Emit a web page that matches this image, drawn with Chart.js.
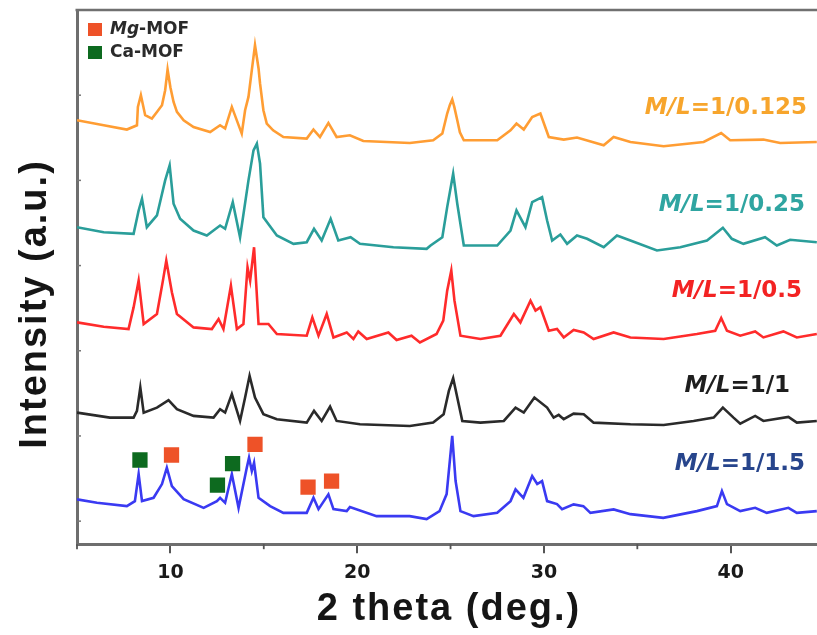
<!DOCTYPE html>
<html><head><meta charset="utf-8">
<script src="https://cdn.jsdelivr.net/npm/chart.js@4/dist/chart.umd.min.js"></script>
<style>html,body{margin:0;padding:0;background:#fff;overflow:hidden}</style>
</head><body>
<canvas id="c" width="817" height="635" style="display:block;width:817px;height:635px"></canvas>
<script>
// ---- data (2 theta in degrees, intensity in arbitrary units incl. stacking offset) ----
const thetaA = [5.00,6.43,7.67,8.21,8.26,8.42,8.65,9.01,9.28,9.55,9.72,9.85,10.00,10.17,10.35,10.71,11.24,12.13,12.66,12.93,13.29,13.82,14.00,14.18,14.36,14.53,14.72,14.80,14.98,15.16,15.50,16.05,17.30,17.66,18.01,18.46,18.90,19.61,20.33,22.82,24.07,24.56,24.82,24.96,25.09,25.20,25.36,25.50,25.71,27.50,28.21,28.53,28.92,29.37,29.81,30.26,31.06,31.77,33.20,33.73,34.63,36.41,38.55,39.49,39.97,41.75,42.65,44.61];
const intA   = [400,395,390.7,395,413.3,425,405,401.7,408.3,415,430,450.7,433,418.3,408.3,400,393.3,388.3,395,391.7,413.3,386.7,410,423.3,450,475,451.7,436.7,410,396.7,390,383.3,381.7,390.7,383.3,397.3,383.3,385,379.3,377.3,380,386.7,406.7,415,420.7,413.3,400,388,380,380,390,396.7,390.7,403.3,406.7,383.3,380.7,382.7,375,383.3,378.3,374,378.3,387.3,380,380.7,377.3,378.3];

const thetaB = [5.00,6.43,8.03,8.30,8.48,8.74,9.28,9.72,9.96,10.17,10.52,11.24,11.95,12.66,12.93,13.34,13.73,14.18,14.45,14.63,14.80,14.98,15.70,16.59,17.30,17.69,18.10,18.58,18.99,19.65,20.15,21.94,23.72,23.93,24.56,24.82,25.14,25.36,25.71,27.50,28.21,28.53,29.01,29.37,29.90,30.17,30.44,30.88,31.24,31.77,32.31,33.20,33.91,34.63,36.05,37.30,38.73,39.58,40.06,40.68,41.84,42.47,43.18,44.61];
const intB   = [293.3,288.3,286.7,310,321.7,293.3,305,340,355,316.7,301.7,290,285,295,291.7,318.3,283.3,340,370,376.7,356.7,303.3,285,276.7,278.3,291.7,280,301.7,280,283.3,276.7,273.3,271.7,275,283.3,313.3,346.7,316.7,275,275,290,310,293.3,318.3,323.3,300,280,286,276.7,285,281.7,273.3,285,280,270,273.3,280,292.7,281.7,276.7,283.3,275,280.7,278.3];

const thetaC = [5.00,6.43,7.76,8.03,8.30,8.57,9.28,9.60,9.78,10.08,10.35,11.24,12.22,12.58,12.84,13.24,13.56,13.91,14.13,14.27,14.48,14.72,15.25,15.70,17.30,17.60,17.93,18.37,18.73,19.44,19.80,20.06,20.51,21.67,22.11,22.91,23.36,24.25,24.61,24.82,25.04,25.21,25.53,26.60,27.67,28.39,28.74,29.28,29.55,29.81,30.26,30.70,31.06,31.59,32.13,32.66,33.73,34.63,36.41,38.19,39.17,39.49,39.80,40.51,41.31,41.75,42.82,43.54,44.61];
const intC   = [198.3,194,191.7,213.3,240,196.7,206.7,240,260,228.3,206.7,193.3,191.7,201.7,191.7,235,191.7,196.7,253.3,240,273.3,196.7,196.7,186.7,185,203.3,185,206.7,183.3,188.3,181.7,189.3,181.7,188.3,180.7,185,178.3,186.7,200,230,250,220,185,181.7,185,206.7,198.3,220,210,213.3,190,191.7,183.3,190.7,188.3,181.7,188.3,183.3,181.7,186.7,190,202.7,190,185,189.3,183.3,189.3,183.3,186.7];

const thetaD = [5.00,6.76,8.03,8.21,8.39,8.57,9.28,9.90,10.35,11.24,12.31,12.66,12.93,13.29,13.73,14.00,14.24,14.53,14.98,15.70,17.30,17.69,18.10,18.55,18.90,20.15,22.82,24.07,24.63,24.91,25.14,25.36,25.63,26.60,27.85,28.48,28.92,29.49,30.17,30.52,30.79,31.06,31.59,32.13,32.66,34.63,36.41,38.01,39.09,39.58,40.15,40.51,41.31,41.75,43.09,43.54,44.61];
const intD   = [108.3,103.3,103.3,110,133.3,108.3,113.3,120.7,111.7,105,103.3,111.7,108.3,126.7,100,123.3,145,123.3,106.7,101.7,98.3,110,100,114.3,100,96.7,95,98.3,106.7,130,142.7,123.3,100,98.3,100,113.3,108.3,123.3,113.3,103.3,106,101.7,107.3,106.7,98.3,96.7,96,100,103.3,113.3,103.3,97.3,105,100,104,98.3,100];

const thetaE = [5.00,6.07,7.67,8.10,8.30,8.48,9.10,9.55,9.81,10.08,10.71,11.78,12.49,12.66,12.93,13.29,13.65,14.09,14.21,14.36,14.48,14.72,15.34,16.05,17.30,17.66,17.93,18.46,18.73,19.44,19.61,21.04,22.81,23.72,24.41,24.79,25.09,25.27,25.53,26.23,27.50,28.21,28.48,28.90,29.37,29.64,29.90,30.17,30.70,30.97,31.59,32.11,32.49,33.73,34.63,36.39,38.19,39.26,39.53,39.80,40.51,41.31,41.93,43.09,43.54,44.61];
const intE   = [21.7,18.3,15,20,47,20,23.3,37,53.3,35,22,13.3,20,23.3,18.3,47,13.3,53.3,63.3,50,58.3,23.3,15,8.3,8.3,23.3,12,26.7,12,10,14,5,5,2,10,27,85,40,10,5,8.3,20,31.7,23.3,45,37,40,20,17,12,16.7,15,8.3,11.7,7,3.3,10,15,30,17,10,13.3,8.3,13.3,8.3,10];

const sampleNames = ['M/L=1/0.125','M/L=1/0.25','M/L=1/0.5','M/L=1/1','M/L=1/1.5'];

// phase markers on the M/L=1/1.5 pattern
const caMofTheta = [8.37, 12.52, 13.33];
const caMofInt   = [61, 36, 57.5];
const mgMofTheta = [10.06, 14.53, 17.37, 18.63];
const mgMofInt   = [66, 76.5, 34, 40];
const phaseNames = ['Mg-MOF', 'Ca-MOF'];

const xTickValues = [5,10,15,20,25,30,35,40];
const xTickLabels = [10,20,30,40];
const yTickValues = [0,85,170,255,340,425];

// ---- styles ----
const lineColors  = ['#ff9d33', '#2a9e9a', '#ff2b2b', '#2a2a2a', '#3a3af2'];
const labelColors = ['#f7a52c', '#2fa5a1', '#f32323', '#1e1e1e', '#27458c'];
const labelAnchor = [[44.09,412],[43.98,315],[43.82,230],[43.18,135],[43.98,57]];
const phaseColors = ['#ee5228', '#0d6a1f'];

const pts = (xs, ys) => xs.slice(0, Math.min(xs.length, ys.length)).map((x, i) => ({x: x, y: ys[i]}));
const series = [[thetaA,intA],[thetaB,intB],[thetaC,intC],[thetaD,intD],[thetaE,intE]];

const datasets = [
  {type:'scatter', data: pts(mgMofTheta, mgMofInt), pointStyle:'rect', pointRadius:10.8, pointHoverRadius:10.8,
   backgroundColor: phaseColors[0], borderWidth:0, order:0},
  {type:'scatter', data: pts(caMofTheta, caMofInt), pointStyle:'rect', pointRadius:10.8, pointHoverRadius:10.8,
   backgroundColor: phaseColors[1], borderWidth:0, order:0}
];
series.forEach((s, i) => datasets.push({
  type:'line', label: sampleNames[i], data: pts(s[0], s[1]), borderColor: lineColors[i],
  borderWidth: 2.6, pointRadius: 0, tension: 0, fill: false, order: 1
}));

const decor = {
  id: 'decor',
  afterDraw(chart) {
    const {ctx, chartArea: a, scales: {x, y}} = chart;
    ctx.save();
    // top frame line
    ctx.strokeStyle = '#707070'; ctx.lineWidth = 2.5;
    ctx.beginPath(); ctx.moveTo(a.left - 1.5, a.top); ctx.lineTo(a.right, a.top); ctx.stroke();
    // minor x ticks
    ctx.lineWidth = 1.8; ctx.strokeStyle = '#555';
    xTickValues.filter(v => !xTickLabels.includes(v)).forEach(v => {
      const px = x.getPixelForValue(v);
      ctx.beginPath(); ctx.moveTo(px, a.bottom); ctx.lineTo(px, a.bottom + 5); ctx.stroke();
    });
    // inward y ticks
    ctx.strokeStyle = '#777'; ctx.lineWidth = 1.5;
    yTickValues.forEach(v => {
      const py = y.getPixelForValue(v);
      ctx.beginPath(); ctx.moveTo(a.left, py); ctx.lineTo(a.left + 4, py); ctx.stroke();
    });
    // sample labels
    ctx.textBaseline = 'middle';
    sampleNames.forEach((name, i) => {
      const rx = x.getPixelForValue(labelAnchor[i][0]);
      const cy = y.getPixelForValue(labelAnchor[i][1]);
      const head = name.slice(0, 3), tail = name.slice(3);
      ctx.font = 'bold 23px "DejaVu Sans"';
      const wt = ctx.measureText(tail).width;
      ctx.font = 'italic bold 23px "DejaVu Sans"';
      const wh = ctx.measureText(head).width;
      ctx.fillStyle = labelColors[i];
      ctx.textAlign = 'left';
      ctx.fillText(head, rx - wt - wh, cy);
      ctx.font = 'bold 23px "DejaVu Sans"';
      ctx.fillText(tail, rx - wt, cy);
    });
    // legend
    phaseNames.forEach((name, i) => {
      const top = a.top + 13 + i * 23;
      ctx.fillStyle = phaseColors[i];
      ctx.fillRect(a.left + 11, top, 14, 13);
      ctx.fillStyle = '#2a2a2a';
      ctx.textAlign = 'left';
      ctx.textBaseline = 'middle';
      if (i === 0) {
        ctx.font = 'italic bold 17px "DejaVu Sans"';
        ctx.fillText('Mg', a.left + 33, top + 7);
        const w = ctx.measureText('Mg').width;
        ctx.font = 'bold 17px "DejaVu Sans"';
        ctx.fillText('-MOF', a.left + 33 + w, top + 7);
      } else {
        ctx.font = 'bold 17px "DejaVu Sans"';
        ctx.fillText(name, a.left + 33, top + 7);
      }
    });
    // axis titles
    ctx.fillStyle = '#151515';
    ctx.letterSpacing = '2px';
    ctx.font = 'bold 38px "Liberation Sans"';
    ctx.textAlign = 'center'; ctx.textBaseline = 'alphabetic';
    ctx.fillText('2 theta (deg.)', 449, 620);
    ctx.translate(46, 304); ctx.rotate(-Math.PI / 2);
    ctx.fillText('Intensity (a.u.)', 0, 0);
    ctx.restore();
  }
};

new Chart(document.getElementById('c'), {
  data: {datasets},
  options: {
    responsive: false, animation: false, devicePixelRatio: 1,
    layout: {autoPadding: false, padding: {left: 77, right: 0, top: 10, bottom: 43}},
    plugins: {legend: {display: false}, tooltip: {enabled: false}},
    scales: {
      x: {
        type: 'linear', min: 5, max: 44.62,
        afterBuildTicks: s => { s.ticks = xTickValues.map(v => ({value: v})); },
        afterFit: s => { s.paddingLeft = 0; s.paddingRight = 0; },
        ticks: {
          autoSkip: false, maxRotation: 0, padding: 8, color: '#1a1a1a',
          font: {family: 'DejaVu Sans', weight: 'bold', size: 19},
          callback: v => xTickLabels.includes(v) ? String(v) : ''
        },
        grid: {
          drawOnChartArea: false, tickLength: 9, lineWidth: 2,
          color: c => (c.tick && xTickLabels.includes(c.tick.value)) ? '#555' : 'rgba(0,0,0,0)'
        },
        border: {display: true, color: '#6e6e6e', width: 3}
      },
      y: {
        min: -23, max: 510,
        afterBuildTicks: s => { s.ticks = yTickValues.map(v => ({value: v})); },
        afterFit: s => { s.paddingTop = 0; s.paddingBottom = 0; },
        ticks: {display: false},
        grid: {drawOnChartArea: false, drawTicks: false},
        border: {display: true, color: '#6e6e6e', width: 3}
      }
    }
  },
  plugins: [decor]
});
</script>
</body></html>
